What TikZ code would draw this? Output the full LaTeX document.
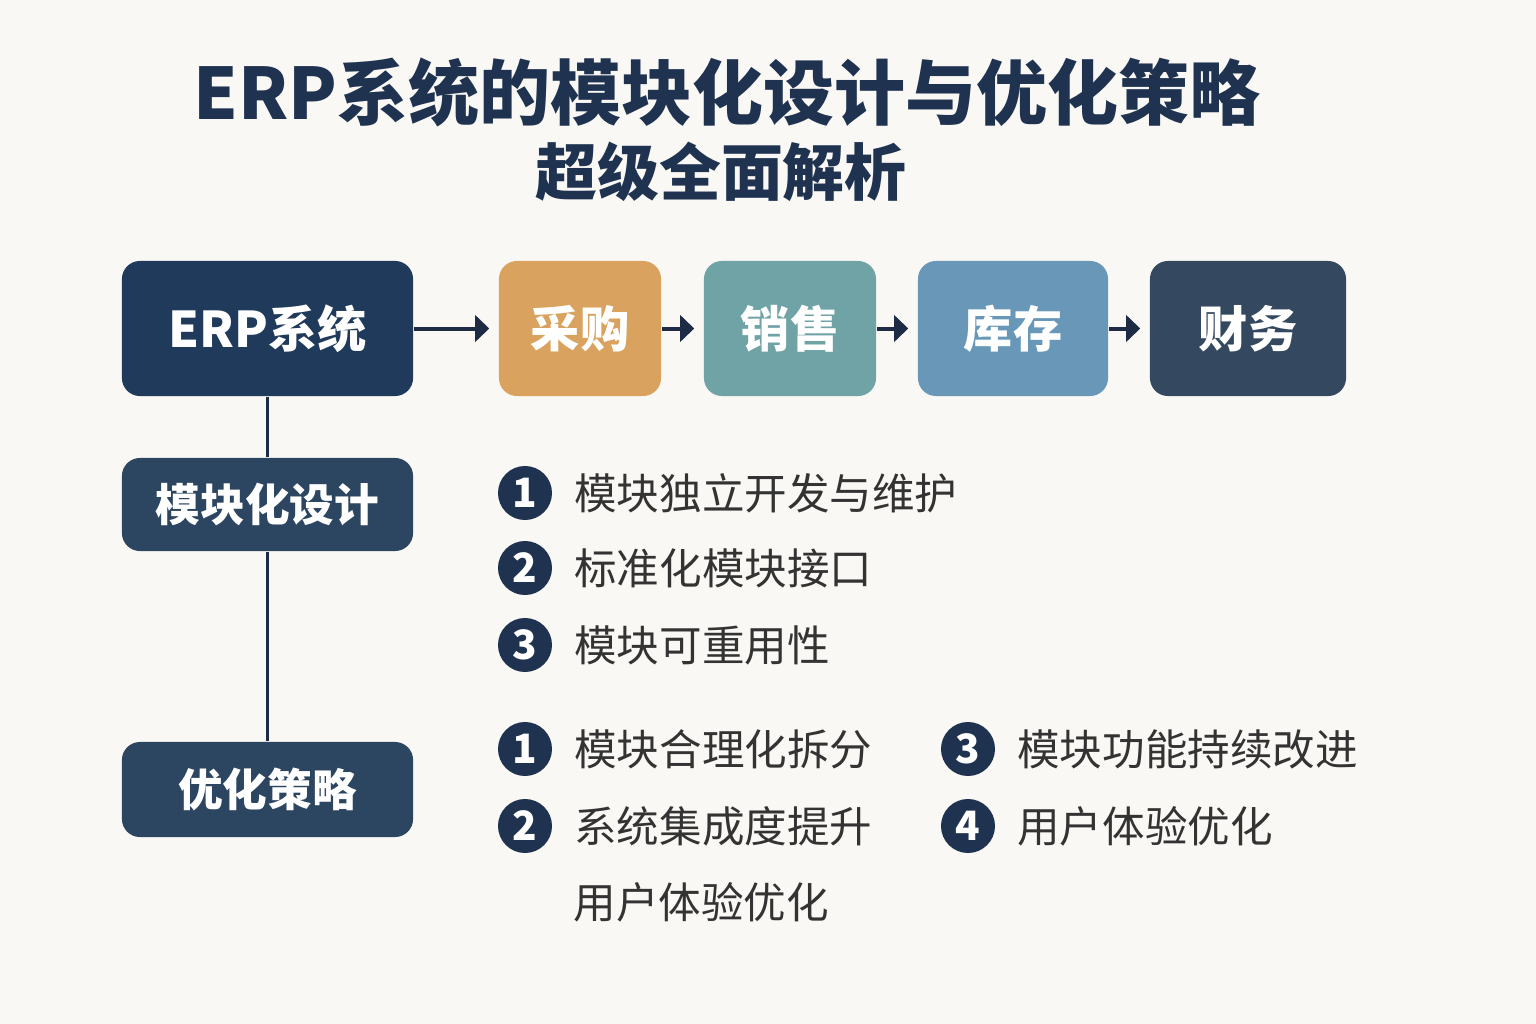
\documentclass[tikz,border=0pt]{standalone}
\usepackage{fontspec}
\setmainfont{Noto Sans CJK SC}
\usetikzlibrary{positioning,arrows.meta}

\definecolor{bgcream}{HTML}{FAF8F4}
\definecolor{titlenavy}{HTML}{1F3350}
\definecolor{erpnavy}{HTML}{1F3A5A}
\definecolor{buyorange}{HTML}{D9A35F}
\definecolor{sellteal}{HTML}{6FA3A6}
\definecolor{stockblue}{HTML}{6897B8}
\definecolor{finslate}{HTML}{34495F}
\definecolor{partblue}{HTML}{2C4560}
\definecolor{itemgray}{HTML}{333333}
\definecolor{linenavy}{HTML}{1E2B45}

\begin{document}
\begin{tikzpicture}[x=0.01cm, y=-0.01cm,
    module/.style={rectangle, rounded corners=0.18cm, minimum height=1.35cm, text=white, font=\bfseries\fontsize{14}{16}\selectfont},
    part/.style={rectangle, rounded corners=0.18cm, minimum width=2.91cm, text=white, fill=partblue, font=\bfseries\fontsize{12.7}{15}\selectfont},
    num/.style={circle, fill=titlenavy, minimum size=0.54cm, inner sep=0pt, text=white, font=\bfseries\fontsize{11.5}{12}\selectfont},
    item/.style={inner sep=0pt, text=itemgray, font=\fontsize{12.1}{14}\selectfont},
    arrow/.style={line width=0.04cm, draw=linenavy, -{Triangle[length=0.14cm,width=0.26cm]}, shorten >=0.09cm},
    link/.style={line width=0.035cm, draw=linenavy}
]

\fill[bgcream] (0,0) rectangle (1536,1024);
\useasboundingbox (0,0) rectangle (1536,1024);

% Title
\node[text=titlenavy, font=\bfseries\fontsize{20.2}{24}\selectfont] (title) at (727,92) {ERP系统的模块化设计与优化策略};
\node[text=titlenavy, font=\bfseries\fontsize{17.6}{20}\selectfont] (subtitle) at (721,172) {超级全面解析};

% Modules
\node[module, fill=erpnavy, minimum width=2.91cm] (erp) at (267.5,328.5) {ERP系统};
\node[module, fill=buyorange, minimum width=1.62cm] (buy) at (580,328.5) {采购};
\node[module, fill=sellteal, minimum width=1.72cm] (sell) at (790,328.5) {销售};
\node[module, fill=stockblue, minimum width=1.90cm] (stock) at (1013,328.5) {库存};
\node[module, fill=finslate, minimum width=1.96cm] (fin) at (1248,328.5) {财务};

% Flow arrows
\draw[arrow] (erp.east) -- (buy.west);
\draw[arrow] (buy.east) -- (sell.west);
\draw[arrow] (sell.east) -- (stock.west);
\draw[arrow] (stock.east) -- (fin.west);

% Parts
\node[part, minimum height=0.93cm] (design) at (267.5,504.5) {模块化设计};
\node[part, minimum height=0.95cm] (optim) at (267.5,789.5) {优化策略};

\draw[link] (erp.south) -- (design.north);
\draw[link] (design.south) -- (optim.north);

% Design points
\node[num] (d1) at (525,493) {1};
\node[num] (d2) at (525,568) {2};
\node[num] (d3) at (525,645) {3};
\node[item, right=0.21cm of d1] (d1text) {模块独立开发与维护};
\node[item, right=0.21cm of d2] (d2text) {标准化模块接口};
\node[item, right=0.21cm of d3] (d3text) {模块可重用性};

% Optimisation points
\node[num] (o1) at (525,749) {1};
\node[num] (o2) at (525,826) {2};
\node[num] (o3) at (968,749) {3};
\node[num] (o4) at (968,826) {4};
\node[item, right=0.21cm of o1] (o1text) {模块合理化拆分};
\node[item, right=0.21cm of o2] (o2text) {系统集成度提升};
\node[item, right=0.21cm of o3] (o3text) {模块功能持续改进};
\node[item, right=0.21cm of o4] (o4text) {用户体验优化};
\node[item, anchor=west] (o5text) at (573,902) {用户体验优化};

\end{tikzpicture}
\end{document}
